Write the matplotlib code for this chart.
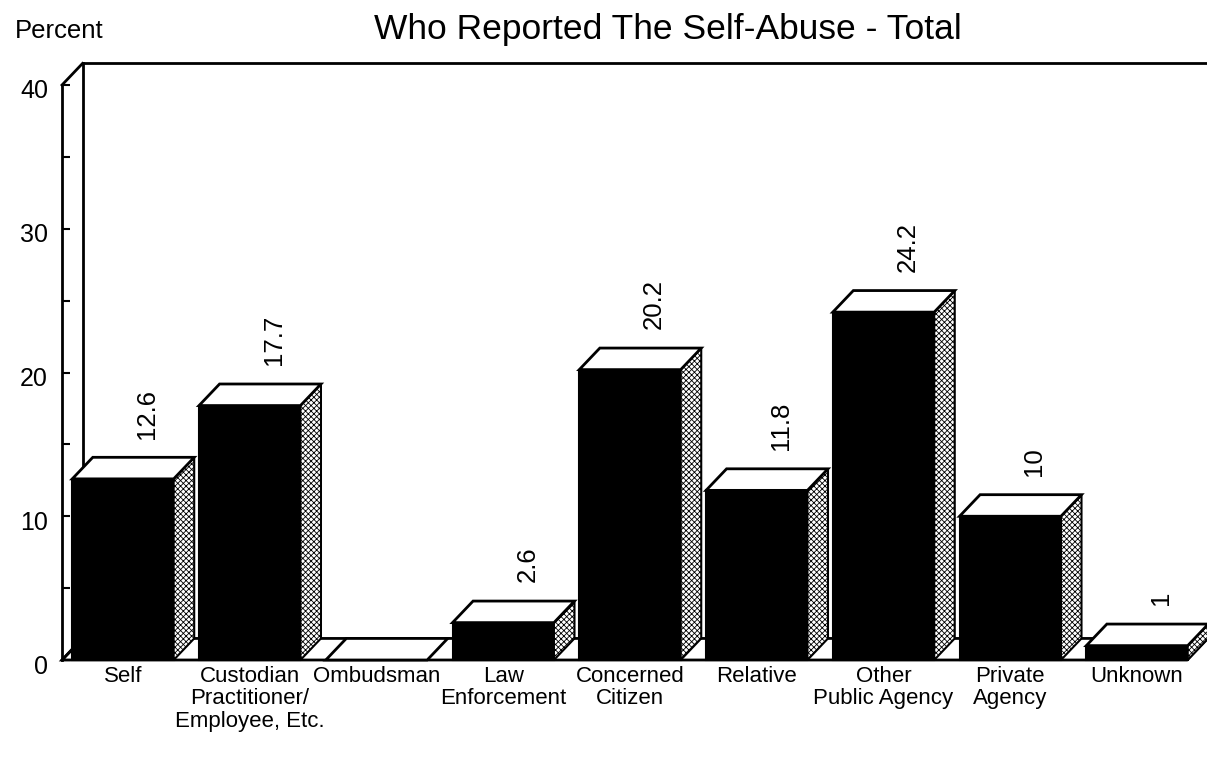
import numpy as np
import matplotlib.pyplot as plt
import matplotlib.transforms as mtransforms
from matplotlib.patches import Polygon, Rectangle

plt.rcParams['font.family'] = ['Liberation Sans', 'DejaVu Sans']
plt.rcParams['hatch.linewidth'] = 0.6

## Data

Categories = ['Self', 'Custodian\nPractitioner/\nEmployee, Etc.', 'Ombudsman',
              'Law\nEnforcement', 'Concerned\nCitizen', 'Relative',
              'Other\nPublic Agency', 'Private\nAgency', 'Unknown']
Values = [12.6, 17.7, 0, 2.6, 20.2, 11.8, 24.2, 10, 1]
Value_labels = ['12.6', '17.7', '', '2.6', '20.2', '11.8', '24.2', '10', '1']
Y_ticks = [0, 10, 20, 30, 40]

## 3d look (in data units)

width = 0.80
dx = 0.162
dy = 1.5
x_left = -0.481
x_right = 8.552
x_floor = 8.394

fig = plt.figure(figsize=(12.07, 7.57), dpi=100)
ax = fig.add_axes([62 / 1207, 97 / 757, 1145 / 1207, 575 / 757])
ax.set_xlim(x_left, x_right)
ax.set_ylim(0, 40)

for s in ['top', 'right', 'bottom']:
    ax.spines[s].set_visible(False)
ax.spines['left'].set_linewidth(2)

# floor
floor = Polygon([(x_left, 0), (x_floor, 0), (x_floor + dx, dy), (x_left + dx, dy)],
                closed=True, facecolor='white', edgecolor='black', lw=2, clip_on=False, zorder=1)
ax.add_patch(floor)

# back walls
kw = dict(color='black', lw=2, clip_on=False, zorder=1)
ax.plot([x_left, x_left + dx], [40, 40 + dy], **kw)
ax.plot([x_left, x_left + dx], [0, dy], **kw)
ax.plot([x_left + dx, x_left + dx], [dy, 40 + dy], **kw)
ax.plot([x_left + dx, x_right], [40 + dy, 40 + dy], **kw)

# bars
for i, v in enumerate(Values):
    x0 = i - width / 2
    x1 = i + width / 2
    if v > 0:
        ax.add_patch(Rectangle((x0, 0), width, v, facecolor='black', edgecolor='black',
                               lw=1.5, clip_on=False, zorder=2))
        ax.add_patch(Polygon([(x1, 0), (x1 + dx, dy), (x1 + dx, v + dy), (x1, v)],
                             closed=True, facecolor='white', edgecolor='black',
                             hatch='xxxxxx', lw=1.5, clip_on=False, zorder=2))
    ax.add_patch(Polygon([(x0, v), (x1, v), (x1 + dx, v + dy), (x0 + dx, v + dy)],
                         closed=True, facecolor='white', edgecolor='black',
                         lw=2, clip_on=False, zorder=3))
    if Value_labels[i]:
        ax.text(i + 0.19, v + dy + 1.3, Value_labels[i], rotation=90,
                ha='center', va='bottom', fontsize=18.5)

# axes ticks
ax.set_yticks(Y_ticks)
ax.set_yticks(np.arange(5, 40, 10), minor=True)
ax.tick_params(axis='y', which='both', direction='in', length=6, width=1.5,
               labelsize=18, pad=10)
shift = mtransforms.ScaledTranslation(0, -4 / 100, fig.dpi_scale_trans)
for lab in ax.get_yticklabels():
    lab.set_transform(lab.get_transform() + shift)

ax.set_xticks(range(len(Categories)))
ax.set_xticklabels(Categories, fontsize=16, linespacing=1.12)
ax.tick_params(axis='x', length=0, pad=4)

fig.text(668 / 1207, 1 - 30 / 757, 'Who Reported The Self-Abuse - Total',
         ha='center', va='center', fontsize=25.5)
fig.text(15 / 1207, 1 - 31 / 757, 'Percent', ha='left', va='center', fontsize=18.5)

plt.savefig('out.png', dpi=100)
